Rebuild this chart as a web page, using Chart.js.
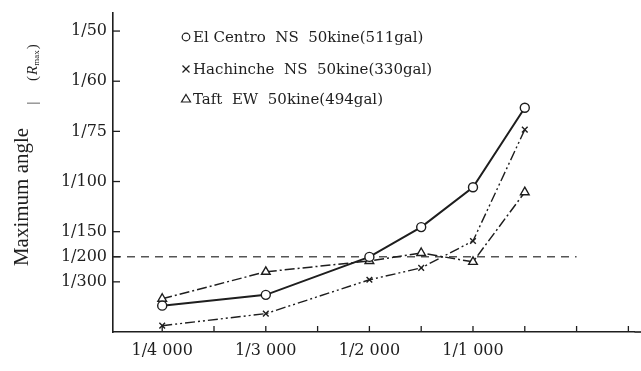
<!DOCTYPE html>
<html>
<head>
<meta charset="utf-8">
<script src="https://cdn.jsdelivr.net/npm/chart.js@4.4.0/dist/chart.umd.min.js"></script>
<style>
  body { margin: 0; background: #fff; }
</style>
</head>
<body>
<canvas id="chart1" width="641" height="371"></canvas>
<script>
  // positions along the x axis (one unit = one minor tick)
  const xPos = [0, 2, 4, 5, 6, 7]
  const xTickLabels = ['1/4 000', '', '1/3 000', '', '1/2 000', '', '1/1 000', '', '', '']
  const yTickDenoms = [300, 200, 150, 100, 75, 60, 50]

  // maximum angle R (rad)
  const elCentro = [0.00175, 0.00247, 0.00499, 0.00697, 0.00962, 0.0149]
  const hachinohe = [0.00042, 0.00122, 0.00347, 0.00426, 0.00605, 0.01345]
  const taft = [0.00221, 0.004, 0.00472, 0.00525, 0.00466, 0.00929]
  const limitR = 1 / 200
  const limitX = [-0.95, 8]

  const seriesLabels = [
    'El Centro  NS  50kine(511gal)',
    'Hachinche  NS  50kine(330gal)',
    'Taft  EW  50kine(494gal)'
  ]
  const seriesMarks = ['circle', 'cross', 'triangle']

  const ink = '#1e1e1e'
  const pts = arr => arr.map((v, i) => ({ x: xPos[i], y: v }))

  const overlay = {
    id: 'overlay',
    afterDraw(chart) {
      const ctx = chart.ctx
      const { left, right, bottom } = chart.chartArea
      const xs = chart.scales.x
      const ys = chart.scales.y
      ctx.save()
      ctx.strokeStyle = ink
      ctx.fillStyle = ink
      ctx.lineWidth = 1.6
      const seg = (a, b, c, d) => {
        ctx.beginPath(); ctx.moveTo(a, b); ctx.lineTo(c, d); ctx.stroke()
      }
      // x axis runs on to the edge of the figure
      seg(right, bottom, chart.width, bottom)

      // inward tick marks
      ctx.lineWidth = 1.3
      xs.ticks.forEach(t => {
        const px = xs.getPixelForValue(t.value)
        seg(px, bottom, px, bottom - 6)
      })
      ys.ticks.forEach(t => {
        const py = ys.getPixelForValue(t.value)
        seg(left, py, left + 7, py)
      })

      // legend inside the plot
      const lx = 186
      const ly = [37, 69, 99]
      ctx.font = '15px "DejaVu Serif"'
      ctx.textBaseline = 'middle'
      ctx.textAlign = 'left'
      seriesLabels.forEach((txt, i) => {
        const y = ly[i]
        ctx.lineWidth = 1.2
        if (seriesMarks[i] === 'circle') {
          ctx.beginPath(); ctx.arc(lx, y, 3.8, 0, Math.PI * 2); ctx.stroke()
        } else if (seriesMarks[i] === 'cross') {
          seg(lx - 3.5, y - 3.5, lx + 3.5, y + 3.5)
          seg(lx - 3.5, y + 3.5, lx + 3.5, y - 3.5)
        } else {
          ctx.beginPath()
          ctx.moveTo(lx, y - 4.5); ctx.lineTo(lx + 4.5, y + 3); ctx.lineTo(lx - 4.5, y + 3)
          ctx.closePath(); ctx.stroke()
        }
        ctx.fillText(txt, lx + 7, y + 1)
      })

      // y axis title
      ctx.translate(22, 197)
      ctx.rotate(-Math.PI / 2)
      ctx.textAlign = 'center'
      ctx.font = '21px "Liberation Serif"'
      ctx.fillText('Maximum angle', 0, 0)
      ctx.font = '14px "Liberation Serif"'
      ctx.fillText('|', 94, 11)
      // (R_max)
      ctx.textAlign = 'left'
      let x0 = 116
      ctx.font = '15px "Liberation Serif"'
      ctx.fillText('(', x0, 11); x0 += ctx.measureText('(').width + 1
      ctx.font = 'italic 15px "Liberation Serif"'
      ctx.fillText('R', x0, 11); x0 += ctx.measureText('R').width
      ctx.font = '9px "Liberation Serif"'
      ctx.fillText('max', x0, 15); x0 += ctx.measureText('max').width + 1
      ctx.font = '15px "Liberation Serif"'
      ctx.fillText(')', x0, 11)
      ctx.restore()
    }
  }

  new Chart(document.getElementById('chart1'), {
    type: 'line',
    data: {
      datasets: [
        {
          label: seriesLabels[0],
          data: pts(elCentro),
          borderColor: ink,
          borderWidth: 2,
          pointStyle: 'circle',
          pointRadius: 4.5,
          pointBackgroundColor: '#fff',
          pointBorderColor: ink,
          pointBorderWidth: 1.4
        },
        {
          label: seriesLabels[1],
          data: pts(hachinohe),
          borderColor: ink,
          borderWidth: 1.4,
          borderDash: [10, 3, 2, 3, 2, 3],
          pointStyle: 'crossRot',
          pointRadius: 4,
          pointBorderColor: ink,
          pointBorderWidth: 1.4
        },
        {
          label: seriesLabels[2],
          data: pts(taft),
          borderColor: ink,
          borderWidth: 1.5,
          borderDash: [10, 3, 2, 3],
          pointStyle: 'triangle',
          pointRadius: 5,
          pointBackgroundColor: '#fff',
          pointBorderColor: ink,
          pointBorderWidth: 1.4
        },
        {
          label: 'limit',
          data: limitX.map(x => ({ x: x, y: limitR })),
          borderColor: '#555',
          borderWidth: 1.4,
          borderDash: [8, 6],
          pointRadius: 0
        }
      ]
    },
    options: {
      responsive: false,
      animation: false,
      layout: { padding: { top: 13, right: 0, left: 0, bottom: 0 } },
      plugins: {
        legend: { display: false },
        tooltip: { enabled: false }
      },
      scales: {
        x: {
          type: 'linear',
          min: -0.95,
          max: 9.12,
          afterFit: scale => {
            scale.height = 39
            scale.paddingLeft = 0
            scale.paddingRight = 0
          },
          afterBuildTicks: scale => {
            scale.ticks = xTickLabels.map((l, i) => ({ value: i }))
          },
          grid: { display: false, drawTicks: false },
          border: { display: true, color: ink, width: 1.6 },
          ticks: {
            autoSkip: false,
            maxRotation: 0,
            padding: 9,
            color: ink,
            font: { family: 'DejaVu Serif', size: 16 },
            callback: v => xTickLabels[v] || ''
          }
        },
        y: {
          type: 'linear',
          min: 0,
          max: 0.0212,
          afterFit: scale => {
            scale.width = 113
            scale.paddingTop = 0
            scale.paddingBottom = 0
          },
          afterBuildTicks: scale => {
            scale.ticks = yTickDenoms.map(d => ({ value: 1 / d }))
          },
          grid: { display: false, drawTicks: false },
          border: { display: true, color: ink, width: 1.6 },
          ticks: {
            padding: 6,
            color: ink,
            font: { family: 'DejaVu Serif', size: 16 },
            callback: v => '1/' + Math.round(1 / v)
          }
        }
      }
    },
    plugins: [overlay]
  })
</script>
</body>
</html>
